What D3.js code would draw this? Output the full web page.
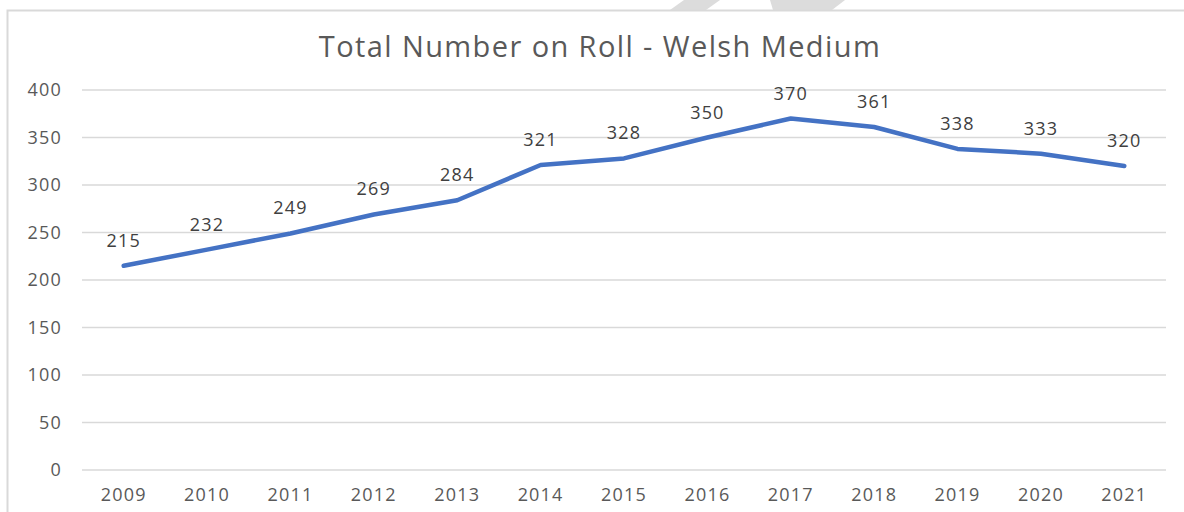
<!DOCTYPE html>
<html>
<head>
<meta charset="utf-8">
<script src="https://cdn.jsdelivr.net/npm/d3@7"></script>
<style>
  body { margin: 0; background: #fff; }
  text { font-family: "Open Sans", "Segoe UI", sans-serif; }
</style>
</head>
<body>
<svg id="chart"></svg>
<script>
      // Data
      var years = ["2009", "2010", "2011", "2012", "2013", "2014", "2015", "2016", "2017", "2018", "2019", "2020", "2021"];
      var onRoll = [215, 232, 249, 269, 284, 321, 328, 350, 370, 361, 338, 333, 320];
      var yTicks = [0, 50, 100, 150, 200, 250, 300, 350, 400];

      var W = 1184, H = 512;
      var margin = { top: 90, right: 18, bottom: 42, left: 82 };
      var width = W - margin.left - margin.right;
      var height = H - margin.top - margin.bottom;

      var root = d3.select("#chart").attr("width", W).attr("height", H);

      // faint watermark shapes at the top
      root.append("polygon").attr("points", "684,0 720,0 706,10 670,10").style("fill", "#dcdcdc");
      root.append("polygon").attr("points", "770,0 845,0 832,10 773,10").style("fill", "#dcdcdc");

      // chart border
      root.append("rect").attr("x", 7.5).attr("y", 10.5).attr("width", 1190).attr("height", 520)
        .style("fill", "none").style("stroke", "#d9d9d9").style("stroke-width", 2);

      // title
      root.append("text").attr("x", 600).attr("y", 57).attr("text-anchor", "middle")
        .style("font-size", "29px").style("letter-spacing", "1.4px").style("fill", "#595959")
        .text("Total Number on Roll - Welsh Medium");

      var svg = root.append("g").attr("transform", "translate(" + margin.left + "," + margin.top + ")");

      var x = d3.scaleBand().domain(years).range([0, width]);
      var y = d3.scaleLinear().domain([0, 400]).range([height, 0]);

      // gridlines
      svg.append("g").selectAll("line").data(yTicks).enter().append("line")
        .attr("x1", 0).attr("x2", width)
        .attr("y1", function (d) { return y(d); }).attr("y2", function (d) { return y(d); })
        .style("stroke", "#d9d9d9").style("stroke-width", 1.5);

      // Y axis labels
      var yAxis = svg.append("g").call(d3.axisLeft(y).tickValues(yTicks).tickSize(0).tickPadding(20));
      yAxis.select(".domain").remove();
      yAxis.selectAll("text").style("font-size", "18px").style("letter-spacing", "1.2px")
        .style("fill", "#595959").style("font-family", "Open Sans");

      // X axis labels
      var xAxis = svg.append("g").attr("transform", "translate(0," + height + ")")
        .call(d3.axisBottom(x).tickSize(0).tickPadding(18));
      xAxis.select(".domain").remove();
      xAxis.selectAll("text").style("font-size", "18px").style("letter-spacing", "1.2px")
        .style("fill", "#595959").style("font-family", "Open Sans");

      var pts = years.map(function (yr, i) { return { year: yr, value: onRoll[i] }; });

      var line = d3.line()
        .x(function (d) { return x(d.year) + x.bandwidth() / 2; })
        .y(function (d) { return y(d.value); });

      svg.append("path").datum(pts).attr("d", line)
        .style("fill", "none").style("stroke", "#4472c4").style("stroke-width", 4.5)
        .style("stroke-linejoin", "round").style("stroke-linecap", "round");

      // data labels
      svg.append("g").selectAll("text").data(pts).enter().append("text")
        .attr("x", function (d) { return x(d.year) + x.bandwidth() / 2; })
        .attr("y", function (d) { return y(d.value) - 19; })
        .attr("text-anchor", "middle")
        .style("font-size", "18px").style("letter-spacing", "1.2px").style("fill", "#404040")
        .text(function (d) { return d.value; });
</script>
</body>
</html>
